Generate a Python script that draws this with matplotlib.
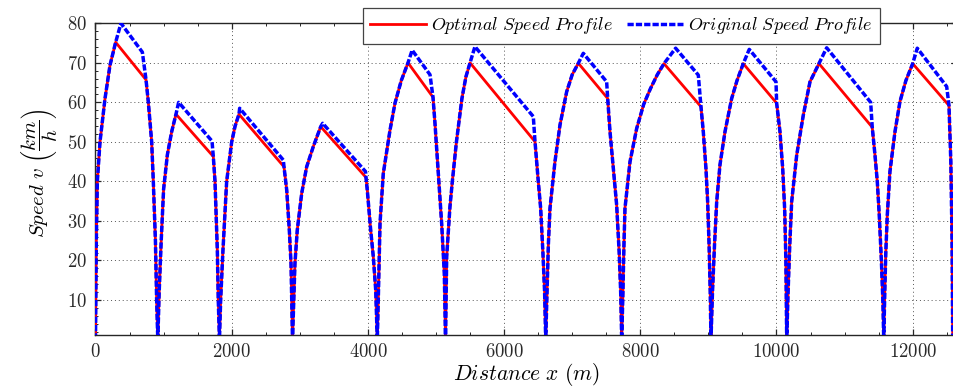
import matplotlib
matplotlib.use("Agg")
import matplotlib.pyplot as plt
from matplotlib.ticker import MultipleLocator

plt.rcParams.update({
    "font.family": "cmr10",
    "mathtext.fontset": "cm",
    "axes.formatter.use_mathtext": True,
    "font.size": 13,
})

# acceleration part of each run (shared by both profiles), ends at the optimal peak
accel_x = [
    [0, 5, 12, 27, 66, 140, 213, 296],
    [915, 935, 965, 1000, 1055, 1119, 1182],
    [1820, 1838, 1870, 1926, 2000, 2050, 2107],
    [2893, 2929, 2963, 3028, 3101, 3198, 3307],
    [4138, 4155, 4178, 4226, 4325, 4398, 4490, 4589],
    [5140, 5157, 5205, 5240, 5300, 5381, 5440, 5500],
    [6611, 6630, 6650, 6674, 6747, 6821, 6919, 7000, 7090],
    [7727, 7745, 7760, 7775, 7849, 7947, 8050, 8150, 8250, 8348],
    [9038, 9060, 9090, 9122, 9170, 9244, 9342, 9420, 9512],
    [10150, 10170, 10195, 10223, 10297, 10394, 10492, 10624],
    [11575, 11590, 11605, 11627, 11666, 11740, 11813, 11900, 12000],
]
accel_v = [
    [0, 12, 25, 40, 50, 61, 69.4, 75.2],
    [0, 12, 25, 38, 46.7, 52.6, 57],
    [0, 10, 22, 40, 50, 54, 57],
    [0, 19.3, 27.7, 37, 43.7, 48.8, 53.85],
    [0, 12, 29.4, 42, 53, 59.8, 65.5, 70],
    [0, 21, 33.6, 40, 50, 61, 66.5, 70],
    [0, 12, 24, 33.2, 45, 54.3, 62.7, 67, 69.9],
    [0, 12, 24, 33.2, 45, 53.4, 59.5, 63.5, 67, 69.8],
    [0, 12, 24, 34.9, 44.2, 52.6, 61, 65.5, 69.8],
    [0, 12, 24, 34.9, 46.7, 56.8, 65.2, 69.8],
    [0, 12, 22, 31.5, 42.5, 52.6, 60.2, 65.5, 69.8],
]

# original profile: higher peak, then coasting kink
blue_peak_x = [374, 1221, 2117, 3336, 4650, 5572, 7163, 8519, 9600, 10737, 12067]
blue_peak_v = [80, 60, 58.5, 54.7, 73.2, 74.1, 72.4, 73.7, 73.4, 73.8, 73.7]
blue_kink_x = [688, 1711, 2758, 3965, 4912, 6429, 7506, 8852, 9993, 11383, 12499]
blue_kink_v = [72.7, 50.2, 45.4, 42.5, 67, 56.4, 65.2, 66.9, 65.2, 60, 64]

# braking part (shared), starts where the optimal profile stops coasting
brake_x = [
    [742, 775, 825, 849, 880, 898, 915],
    [1730, 1755, 1789, 1803, 1820],
    [2768, 2808, 2846, 2871, 2893],
    [3972, 3991, 4041, 4079, 4115, 4138],
    [4956, 4985, 5034, 5083, 5122, 5140],
    [6454, 6478, 6502, 6537, 6570, 6595, 6611],
    [7521, 7555, 7604, 7653, 7690, 7712, 7727],
    [8891, 8925, 8964, 8989, 9010, 9027, 9038],
    [10002, 10051, 10091, 10120, 10138, 10150],
    [11406, 11446, 11480, 11509, 11540, 11562, 11575],
    [12533, 12560, 12578, 12588],
]
brake_v = [
    [65.7, 60.2, 50, 40, 25, 10, 0],
    [46.3, 40, 22.6, 10, 0],
    [43.7, 37.8, 27.7, 19.3, 0],
    [41, 37.8, 27.7, 21, 12.5, 0],
    [61.3, 54.7, 42, 29.4, 16.8, 0],
    [50.05, 45, 40, 33.2, 22, 12, 0],
    [61, 52.6, 43.3, 34, 22, 12, 0],
    [58.9, 52.6, 43.3, 34.9, 24, 12, 0],
    [59.8, 52.6, 43.3, 33, 20, 0],
    [53.7, 46.7, 40, 31.5, 20, 10, 0],
    [59.2, 45, 25, 0],
]

red_x, red_v, blue_x, blue_v = [], [], [], []
for i in range(len(accel_x)):
    red_x += accel_x[i] + brake_x[i]
    red_v += accel_v[i] + brake_v[i]
    blue_x += accel_x[i] + [blue_peak_x[i], blue_kink_x[i]] + brake_x[i]
    blue_v += accel_v[i] + [blue_peak_v[i], blue_kink_v[i]] + brake_v[i]

fig = plt.figure(figsize=(9.54, 3.88), dpi=100)
ax = fig.add_axes([0.1001, 0.1366, 0.903, 0.8034])

ax.plot(red_x, red_v, color="#ff0000", lw=2.0, label=r"$Optimal\ Speed\ Profile$", zorder=3)
ax.plot(blue_x, blue_v, color="#0000ff", lw=2.5, dashes=(1.8, 0.6),
        label=r"$Original\ Speed\ Profile$", zorder=4)

ax.set_xlim(0, 12650)
ax.set_ylim(1.15, 80)
ax.xaxis.set_major_locator(MultipleLocator(2000))
ax.xaxis.set_minor_locator(MultipleLocator(500))
ax.yaxis.set_major_locator(MultipleLocator(10))
ax.yaxis.set_minor_locator(MultipleLocator(2))
ax.tick_params(which="both", direction="in", top=True, right=True, color="#262626")
ax.tick_params(which="major", length=4.5, width=0.9)
ax.tick_params(which="minor", length=2.2, width=0.7)
ax.tick_params(axis="y", pad=6, labelsize=13.5, labelcolor="#2a2a2a")
ax.tick_params(axis="x", pad=6, labelsize=13.5, labelcolor="#2a2a2a")
for s in ax.spines.values():
    s.set_linewidth(1.0)
    s.set_color("#262626")

ax.grid(True, which="major", color="#555555", lw=0.7, dashes=(1, 3))

ax.set_xlabel(r"$Distance\ x\ (m)$", fontsize=15.5, labelpad=0)
ax.set_ylabel(r"$Speed\ v\ \left(\dfrac{km}{h}\right)$", fontsize=15)
ax.yaxis.set_label_coords(-0.041, 0.52)

leg = fig.legend(loc="center", bbox_to_anchor=(0.651, 0.9335), ncol=2, fontsize=13,
                 handlelength=3.1, handletextpad=0.28, columnspacing=0.8,
                 fancybox=False, framealpha=1, edgecolor="#444444", borderpad=0.4)
leg.get_frame().set_linewidth(0.9)

fig.savefig("out.png", dpi=100)
